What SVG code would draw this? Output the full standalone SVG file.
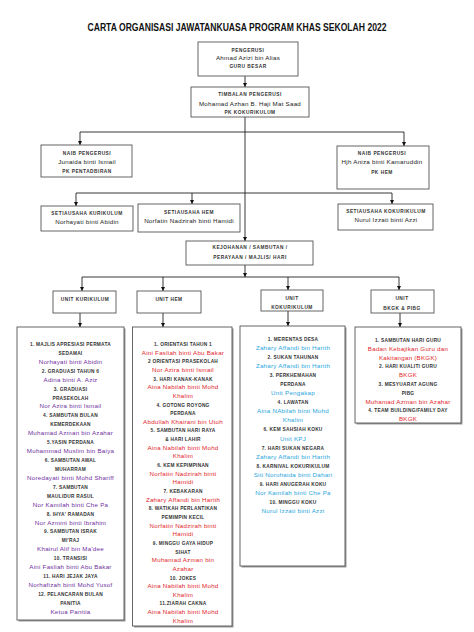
<svg xmlns="http://www.w3.org/2000/svg" width="474" height="632" viewBox="0 0 474 632">
<style>
text{font-family:"Liberation Sans",Arial,sans-serif;text-anchor:middle}
.t{font-size:10px;font-weight:bold;fill:#111}
.bh{font-size:4.8px;font-weight:bold;letter-spacing:0.5px;fill:#333}
.bn{font-size:6.2px;letter-spacing:0.25px;fill:#222}
.h{font-size:4.8px;font-weight:bold;letter-spacing:0.25px;fill:#333}
.n{font-size:6.2px;letter-spacing:0.25px}
.pu{fill:#7030a0}
.rd{fill:#e3262b}
.cy{fill:#1fa6dc}
.box{fill:#fff;stroke:#555;stroke-width:0.9}
.sh{fill:#999}
.ln{fill:none;stroke:#222;stroke-width:0.9}
</style>
<defs>
<marker id="ah" viewBox="0 0 6 6" refX="6" refY="3" markerWidth="4" markerHeight="4" orient="auto" markerUnits="userSpaceOnUse"><path d="M0,0 L6,3 L0,6 z" fill="#111"/></marker>
</defs>
<rect width="474" height="632" fill="#fff"/>
<text class="t" x="237" y="31" textLength="299" lengthAdjust="spacingAndGlyphs">CARTA ORGANISASI JAWATANKUASA PROGRAM KHAS SEKOLAH 2022</text>

<g id="connectors">
<path class="ln" d="M245,76 V87" marker-end="url(#ah)"/>
<path class="ln" d="M245,117 V241" marker-end="url(#ah)"/>
<path class="ln" d="M80,132 H404"/>
<path class="ln" d="M80,132 V145" marker-end="url(#ah)"/>
<path class="ln" d="M404,132 V146" marker-end="url(#ah)"/>
<path class="ln" d="M76,193 H392"/>
<path class="ln" d="M76,193 V206" marker-end="url(#ah)"/>
<path class="ln" d="M192,193 V204" marker-end="url(#ah)"/>
<path class="ln" d="M392,193 V204" marker-end="url(#ah)"/>
<path class="ln" d="M245,265 V277" marker-end="url(#ah)"/>
<path class="ln" d="M82,277 H399"/>
<path class="ln" d="M82,277 V291" marker-end="url(#ah)"/>
<path class="ln" d="M163,277 V291" marker-end="url(#ah)"/>
<path class="ln" d="M288,277 V290" marker-end="url(#ah)"/>
<path class="ln" d="M399,277 V290" marker-end="url(#ah)"/>
<path class="ln" d="M80,313 V327" marker-end="url(#ah)"/>
<path class="ln" d="M163,313 V327" marker-end="url(#ah)"/>
<path class="ln" d="M288,311 V326" marker-end="url(#ah)"/>
<path class="ln" d="M400,313 V327" marker-end="url(#ah)"/>
</g>

<g id="pengerusi">
<rect class="box" x="198" y="42" width="100" height="34"/>
<text class="bh" x="248" y="51.7">PENGERUSI</text>
<text class="bn" x="248" y="59.5">Ahmad Azizi bin Alias</text>
<text class="bh" x="248" y="67.7">GURU BESAR</text>
</g>
<g id="timbalan">
<rect class="box" x="191" y="87" width="118" height="30"/>
<text class="bh" x="250" y="96">TIMBALAN PENGERUSI</text>
<text class="bn" x="250" y="105.7">Mohamad Azhan B. Haji Mat Saad</text>
<text class="bh" x="250" y="114.4">PK KOKURIKULUM</text>
</g>
<g id="naib-kiri">
<rect class="box" x="41" y="145" width="91" height="32"/>
<text class="bh" x="87" y="154.7">NAIB PENGERUSI</text>
<text class="bn" x="87" y="164">Junaida binti Ismail</text>
<text class="bh" x="87" y="172.7">PK PENTADBIRAN</text>
</g>
<g id="naib-kanan">
<rect class="box" x="337" y="146" width="92" height="43"/>
<text class="bh" x="382" y="155">NAIB PENGERUSI</text>
<text class="bn" x="382" y="164.3">Hjh Aniza binti Kamaruddin</text>
<text class="bh" x="382" y="173.7">PK HEM</text>
</g>
<g id="setiausaha-kurikulum">
<rect class="box" x="41" y="206" width="92" height="25"/>
<text class="bh" x="87" y="215">SETIAUSAHA KURIKULUM</text>
<text class="bn" x="87" y="224">Norhayati binti Abidin</text>
</g>
<g id="setiausaha-hem">
<rect class="box" x="138" y="204" width="102" height="28"/>
<text class="bh" x="189" y="214">SETIAUSAHA HEM</text>
<text class="bn" x="189" y="223">Norfatin Nadzirah binti Hamidi</text>
</g>
<g id="setiausaha-kokurikulum">
<rect class="box" x="338" y="204" width="95" height="26"/>
<text class="bh" x="386" y="213">SETIAUSAHA KOKURIKULUM</text>
<text class="bn" x="386" y="222">Nurul Izzati binti Azzi</text>
</g>
<g id="kejohanan">
<rect class="box" x="186" y="241" width="127" height="24"/>
<text class="bh" x="250" y="248.9">KEJOHANAN / SAMBUTAN /</text>
<text class="bh" x="250" y="258.9">PERAYAAN  / MAJLIS/ HARI</text>
</g>
<g id="unit-kurikulum">
<rect class="box" x="53" y="291" width="63" height="22"/>
<text class="bh" x="85" y="300.9">UNIT KURIKULUM</text>
</g>
<g id="unit-hem">
<rect class="box" x="137" y="291" width="64" height="22"/>
<text class="bh" x="169" y="300.9">UNIT HEM</text>
</g>
<g id="unit-kokurikulum">
<rect class="box" x="261" y="290" width="62" height="21"/>
<text class="bh" x="292" y="299.7">UNIT</text>
<text class="bh" x="292" y="308.7">KOKURIKULUM</text>
</g>
<g id="unit-bkgk">
<rect class="box" x="371" y="290" width="63" height="23"/>
<text class="bh" x="402" y="300">UNIT</text>
<text class="bh" x="402" y="310">BKGK &amp; PIBG</text>
</g>

<g id="senarai-kurikulum">
<rect class="sh" x="18.5" y="328.5" width="107" height="293"/>
<rect class="box" x="17" y="327" width="107" height="293"/>
<text class="h" x="70.5" y="345.9">1. MAJLIS APRESIASI PERMATA</text>
<text class="h" x="70.5" y="354.8">SEDAMAI</text>
<text class="n pu" x="70.5" y="363.8">Norhayati binti Abidin</text>
<text class="h" x="70.5" y="372.7">2. GRADUASI TAHUN 6</text>
<text class="n pu" x="70.5" y="381.6">Adina binti A. Aziz</text>
<text class="h" x="70.5" y="390.6">3. GRADUASI</text>
<text class="h" x="70.5" y="399.5">PRASEKOLAH</text>
<text class="n pu" x="70.5" y="408.4">Nor Azira binti Ismail</text>
<text class="h" x="70.5" y="417.3">4. SAMBUTAN BULAN</text>
<text class="h" x="70.5" y="426.3">KEMERDEKAAN</text>
<text class="n pu" x="70.5" y="435.2">Muhamad Azman bin Azahar</text>
<text class="h" x="70.5" y="444.1">5.YASIN PERDANA</text>
<text class="n pu" x="70.5" y="453.1">Muhammad Muslim bin Baiya</text>
<text class="h" x="70.5" y="462">6. SAMBUTAN AWAL</text>
<text class="h" x="70.5" y="470.9">MUHARRAM</text>
<text class="n pu" x="70.5" y="479.9">Noredayati binti Mohd Shariff</text>
<text class="h" x="70.5" y="488.8">7. SAMBUTAN</text>
<text class="h" x="70.5" y="497.7">MAULIDUR RASUL</text>
<text class="n pu" x="70.5" y="506.6">Nor Kamilah binti Che Pa</text>
<text class="h" x="70.5" y="515.6">8. IHYA' RAMADAN</text>
<text class="n pu" x="70.5" y="524.5">Nor Azmini binti Ibrahim</text>
<text class="h" x="70.5" y="533.4">9. SAMBUTAN  ISRAK</text>
<text class="h" x="70.5" y="542.4">MI'RAJ</text>
<text class="n pu" x="70.5" y="551.3">Khairul Alif bin Ma'dee</text>
<text class="h" x="70.5" y="560.2">10. TRANSISI</text>
<text class="n pu" x="70.5" y="569.2">Aini Fasliah binti Abu Bakar</text>
<text class="h" x="70.5" y="578.1">11. HARI JEJAK JAYA</text>
<text class="n pu" x="70.5" y="587">Norhafizah binti Mohd Yusof</text>
<text class="h" x="70.5" y="596">12. PELANCARAN BULAN</text>
<text class="h" x="70.5" y="604.9">PANITIA</text>
<text class="n pu" x="70.5" y="613.8">Ketua Panitia</text>
</g>

<g id="senarai-hem">
<rect class="sh" x="134" y="328.5" width="99.5" height="299"/>
<rect class="box" x="132.5" y="327" width="99.5" height="299"/>
<text class="h" x="183" y="345.9">1. ORIENTASI TAHUN 1</text>
<text class="n rd" x="183" y="354.6">Aini Fasliah binti Abu Bakar</text>
<text class="h" x="183" y="363.2">2 ORIENTASI PRASEKOLAH</text>
<text class="n rd" x="183" y="371.9">Nor Azira binti Ismail</text>
<text class="h" x="183" y="380.5">3. HARI KANAK-KANAK</text>
<text class="n rd" x="183" y="389.2">Aina Nabilah binti Mohd</text>
<text class="n rd" x="183" y="397.8">Khalim</text>
<text class="h" x="183" y="406.5">4. GOTONG ROYONG</text>
<text class="h" x="183" y="415.1">PERDANA</text>
<text class="n rd" x="183" y="423.8">Abdullah Khairani bin Utoh</text>
<text class="h" x="183" y="432.4">5.  SAMBUTAN HARI RAYA</text>
<text class="h" x="183" y="441.1">&amp; HARI LAHIR</text>
<text class="n rd" x="183" y="449.7">Aina Nabilah binti Mohd</text>
<text class="n rd" x="183" y="458.4">Khalim</text>
<text class="h" x="183" y="467">6. KEM KEPIMPINAN</text>
<text class="n rd" x="183" y="475.7">Norfatin Nadzirah binti</text>
<text class="n rd" x="183" y="484.3">Hamidi</text>
<text class="h" x="183" y="493">7. KEBAKARAN</text>
<text class="n rd" x="183" y="501.6">Zahary Affandi bin Harith</text>
<text class="h" x="183" y="510.3">8.  WATIKAH PERLANTIKAN</text>
<text class="h" x="183" y="518.9">PEMIMPIN KECIL</text>
<text class="n rd" x="183" y="527.6">Norfatin Nadzirah binti</text>
<text class="n rd" x="183" y="536.2">Hamidi</text>
<text class="h" x="183" y="544.9">9. MINGGU GAYA HIDUP</text>
<text class="h" x="183" y="553.5">SIHAT</text>
<text class="n rd" x="183" y="562.2">Muhamad Azman bin</text>
<text class="n rd" x="183" y="570.8">Azahar</text>
<text class="h" x="183" y="579.5">10. JOKES</text>
<text class="n rd" x="183" y="588.1">Aina Nabilah binti Mohd</text>
<text class="n rd" x="183" y="596.8">Khalim</text>
<text class="h" x="183" y="605.4">11.ZIARAH CAKNA</text>
<text class="n rd" x="183" y="614.1">Aina Nabilah binti Mohd</text>
<text class="n rd" x="183" y="622.7">Khalim</text>
</g>

<g id="senarai-kokurikulum">
<rect class="sh" x="241.5" y="327.5" width="105" height="240"/>
<rect class="box" x="240" y="326" width="105" height="240"/>
<text class="h" x="293" y="340.9">1.  MERENTAS DESA</text>
<text class="n cy" x="293" y="350">Zahary Affandi bin Harith</text>
<text class="h" x="293" y="359">2. SUKAN TAHUNAN</text>
<text class="n cy" x="293" y="368.1">Zahary Affandi bin Harith</text>
<text class="h" x="293" y="377.1">3. PERKHEMAHAN</text>
<text class="h" x="293" y="386.2">PERDANA</text>
<text class="n cy" x="293" y="395.2">Unit Pengakap</text>
<text class="h" x="293" y="404.3">4. LAWATAN</text>
<text class="n cy" x="293" y="413.3">Aina NAbilah binti Mohd</text>
<text class="n cy" x="293" y="422.4">Khalim</text>
<text class="h" x="293" y="431.4">6. KEM SAHSIAH KOKU</text>
<text class="n cy" x="293" y="440.5">Unit KPJ</text>
<text class="h" x="293" y="449.5">7. HARI SUKAN NEGARA</text>
<text class="n cy" x="293" y="458.6">Zahary Affandi bin Harith</text>
<text class="h" x="293" y="467.6">8. KARNIVAL KOKURIKULUM</text>
<text class="n cy" x="293" y="476.7">Siti Noruhaida binti Dahari</text>
<text class="h" x="293" y="485.7">9. HARI ANUGERAH KOKU</text>
<text class="n cy" x="293" y="494.8">Nor Kamilah binti Che Pa</text>
<text class="h" x="293" y="503.8">10. MINGGU KOKU</text>
<text class="n cy" x="293" y="512.9">Nurul Izzati binti Azzi</text>
</g>

<g id="senarai-bkgk">
<rect class="sh" x="356.5" y="328.5" width="106" height="96"/>
<rect class="box" x="355" y="327" width="106" height="96"/>
<text class="h" x="408" y="341.9">1. SAMBUTAN HARI GURU</text>
<text class="n rd" x="408" y="350.7">Badan Kebajikan Guru dan</text>
<text class="n rd" x="408" y="359.5">Kakitangan (BKGK)</text>
<text class="h" x="408" y="368.3">2. HARI KUALITI GURU</text>
<text class="n rd" x="408" y="377.1">BKGK</text>
<text class="h" x="408" y="385.9">3. MESYUARAT AGUNG</text>
<text class="h" x="408" y="394.7">PIBG</text>
<text class="n rd" x="408" y="403.5">Muhamad Azman bin Azahar</text>
<text class="h" x="408" y="412.3">4. TEAM BUILDING/FAMILY DAY</text>
<text class="n rd" x="408" y="421.1">BKGK</text>
</g>
</svg>
